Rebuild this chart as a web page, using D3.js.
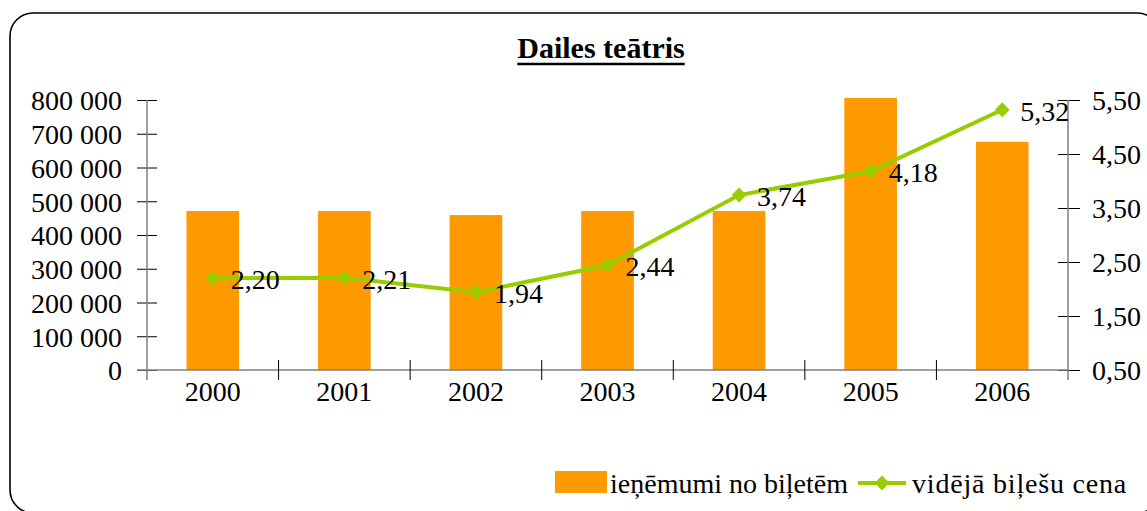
<!DOCTYPE html>
<html>
<head>
<meta charset="utf-8">
<script src="https://cdn.jsdelivr.net/npm/d3@7"></script>
<style>
  body { margin: 0; background: #fff; }
  svg text { font-family: "Liberation Serif", "Times New Roman", serif; fill: #000; }
</style>
</head>
<body>
<div class="graph-section"></div>
<script>
var years = ["2000", "2001", "2002", "2003", "2004", "2005", "2006"];
var revenue = [471000, 471000, 459000, 471000, 471000, 806000, 676000];
var price = [2.20, 2.21, 1.94, 2.44, 3.74, 4.18, 5.32];
var leftTicks = [0, 100000, 200000, 300000, 400000, 500000, 600000, 700000, 800000];
var rightTicks = [0.5, 1.5, 2.5, 3.5, 4.5, 5.5];
var chartTitle = "Dailes teātris";
var seriesNames = ["ieņēmumi no biļetēm", "vidējā biļešu cena"];

var screen = {width: 1147, height: 511};
var plot = {left: 147, right: 1068, top: 100, bottom: 370};

var lv = d3.formatLocale({decimal: ",", thousands: " ", grouping: [3], currency: ["", ""]});
var fmtLeft = lv.format(",.0f");
var fmtRight = lv.format(".2f");

var svg = d3.select(".graph-section")
  .append("svg")
  .attr("width", screen.width)
  .attr("height", screen.height);

// frame
svg.append("rect")
  .attr("x", 10).attr("y", 13)
  .attr("width", 1150).attr("height", 500)
  .attr("rx", 23).attr("ry", 23)
  .attr("fill", "none")
  .attr("stroke", "#000")
  .attr("stroke-width", 1.6);

var xScale = d3.scaleBand()
  .domain(years)
  .range([plot.left, plot.right]);

var yLeft = d3.scaleLinear()
  .domain([0, 800000])
  .range([plot.bottom, plot.top]);

var yRight = d3.scaleLinear()
  .domain([0.5, 5.5])
  .range([plot.bottom, plot.top]);

// title
var title = svg.append("text")
  .attr("x", 601).attr("y", 58)
  .attr("text-anchor", "middle")
  .style("font-size", "30px")
  .style("font-weight", "bold")
  .text(chartTitle);
var tb = title.node().getBBox();
svg.append("line")
  .attr("x1", tb.x).attr("x2", tb.x + tb.width)
  .attr("y1", 64).attr("y2", 64)
  .attr("stroke", "#000").attr("stroke-width", 2.5);

// bars
var barW = xScale.bandwidth() * 0.4;
svg.append("g").selectAll("rect")
  .data(revenue)
  .enter()
  .append("rect")
  .attr("x", function(d, i) { return xScale(years[i]) + (xScale.bandwidth() - barW) / 2; })
  .attr("y", function(d) { return yLeft(d); })
  .attr("width", barW)
  .attr("height", function(d) { return plot.bottom - yLeft(d); })
  .attr("fill", "#ff9900");

// left axis
var leftAxis = svg.append("g")
  .attr("transform", "translate(" + plot.left + ",0)")
  .call(d3.axisLeft(yLeft).tickValues(leftTicks).tickFormat(fmtLeft).tickSizeInner(10).tickSizeOuter(0).tickPadding(15));
leftAxis.select(".domain").remove();
leftAxis.selectAll(".tick line").attr("x2", 10).attr("x1", -10).attr("stroke", "#000");
leftAxis.selectAll("text").style("font-size", "28px").attr("dy", "0.35em");
svg.append("line")
  .attr("x1", plot.left).attr("x2", plot.left)
  .attr("y1", plot.top).attr("y2", plot.bottom + 10)
  .attr("stroke", "#808080").attr("stroke-width", 1.5);

// right axis
var rightAxis = svg.append("g")
  .attr("transform", "translate(" + plot.right + ",0)")
  .call(d3.axisRight(yRight).tickValues(rightTicks).tickFormat(fmtRight).tickSizeInner(12).tickSizeOuter(0).tickPadding(12));
rightAxis.select(".domain").remove();
rightAxis.selectAll(".tick line").attr("x1", -10).attr("x2", 12).attr("stroke", "#000");
rightAxis.selectAll("text").style("font-size", "28px").attr("dy", "0.35em");
svg.append("line")
  .attr("x1", plot.right).attr("x2", plot.right)
  .attr("y1", plot.top).attr("y2", plot.bottom + 10)
  .attr("stroke", "#808080").attr("stroke-width", 1.5);

// bottom axis
svg.append("line")
  .attr("x1", plot.left - 10).attr("x2", plot.right)
  .attr("y1", plot.bottom).attr("y2", plot.bottom)
  .attr("stroke", "#808080").attr("stroke-width", 1.5);
svg.append("g").selectAll("line")
  .data(years.slice(1))
  .enter()
  .append("line")
  .attr("x1", function(d) { return xScale(d); })
  .attr("x2", function(d) { return xScale(d); })
  .attr("y1", plot.bottom - 10).attr("y2", plot.bottom + 10)
  .attr("stroke", "#000");
svg.append("g").selectAll("text")
  .data(years)
  .enter()
  .append("text")
  .attr("x", function(d) { return xScale(d) + xScale.bandwidth() / 2; })
  .attr("y", 401)
  .attr("text-anchor", "middle")
  .style("font-size", "28px")
  .text(function(d) { return d; });

// price line
var cx = function(d, i) { return xScale(years[i]) + xScale.bandwidth() / 2; };
var line = d3.line()
  .x(cx)
  .y(function(d) { return yRight(d); });
svg.append("path")
  .datum(price)
  .attr("d", line)
  .attr("fill", "none")
  .attr("stroke", "#99cc00")
  .attr("stroke-width", 4);

var diamond = d3.symbol().type(d3.symbolSquare).size(110);
svg.append("g").selectAll("path")
  .data(price)
  .enter()
  .append("path")
  .attr("d", diamond)
  .attr("transform", function(d, i) { return "translate(" + cx(d, i) + "," + yRight(d) + ") rotate(45)"; })
  .attr("fill", "#99cc00");

svg.append("g").selectAll("text")
  .data(price)
  .enter()
  .append("text")
  .attr("x", function(d, i) { return cx(d, i) + 18; })
  .attr("y", function(d) { return yRight(d) + 11; })
  .style("font-size", "28px")
  .text(function(d) { return fmtRight(d); });

// legend
var legend = svg.append("g").classed("legend", true);
legend.append("rect")
  .attr("x", 555).attr("y", 471)
  .attr("width", 52).attr("height", 22)
  .attr("fill", "#ff9900");
legend.append("text")
  .attr("x", 610).attr("y", 493)
  .style("font-size", "28px")
  .text(seriesNames[0]);
legend.append("line")
  .attr("x1", 858).attr("x2", 906)
  .attr("y1", 483).attr("y2", 483)
  .attr("stroke", "#99cc00").attr("stroke-width", 4);
legend.append("path")
  .attr("d", diamond)
  .attr("transform", "translate(882,483) rotate(45)")
  .attr("fill", "#99cc00");
legend.append("text")
  .attr("x", 912).attr("y", 493)
  .style("font-size", "28px")
  .attr("letter-spacing", "0.8px")
  .text(seriesNames[1]);
</script>
</body>
</html>
